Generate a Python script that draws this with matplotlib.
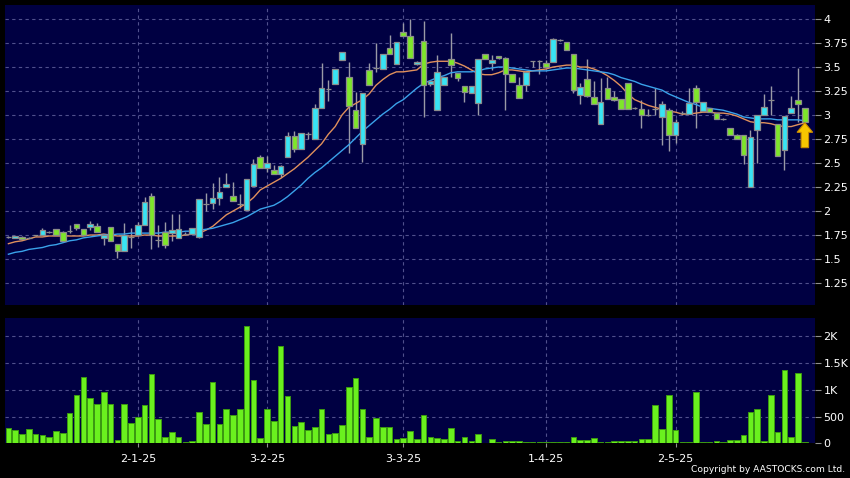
import numpy as np
import pandas as pd
import matplotlib
matplotlib.use('Agg')
import matplotlib.pyplot as plt
from matplotlib.patches import FancyArrow

# HK trading days, Dec 2024 - May 2025
holidays = ['2024-12-25', '2024-12-26', '2025-01-01', '2025-01-29', '2025-01-30',
            '2025-01-31', '2025-04-04', '2025-04-18', '2025-04-21', '2025-05-01',
            '2025-05-05']
dates = pd.bdate_range('2024-12-03', '2025-05-30')
dates = dates[~dates.isin(pd.to_datetime(holidays))]

opens = [1.73, 1.72, 1.73, 1.72, 1.75, 1.75, 1.78, 1.81, 1.785, 1.795,
         1.87, 1.81, 1.83, 1.84, 1.715, 1.83, 1.66, 1.585, 1.725, 1.75,
         1.855, 2.16, 1.70, 1.78, 1.77, 1.715, 1.765, 1.76, 1.73, 2.07,
         2.08, 2.14, 2.25, 2.16, 2.07, 2.01, 2.26, 2.56, 2.445, 2.43,
         2.39, 2.56, 2.785, 2.65, 2.80, 2.75, 3.07, 3.27, 3.32, 3.57,
         3.40, 3.05, 2.70, 3.47, 3.49, 3.48, 3.70, 3.53, 3.86, 3.82,
         3.53, 3.77, 3.32, 3.05, 3.31, 3.58, 3.44, 3.30, 3.23, 3.13,
         3.64, 3.54, 3.615, 3.59, 3.43, 3.31, 3.31, 3.56, 3.56, 3.54,
         3.55, 3.78, 3.76, 3.64, 3.21, 3.38, 3.19, 2.91, 3.285, 3.19,
         3.17, 3.33, 3.07, 3.06, 3.00, 3.06, 2.98, 3.05, 2.79, 3.02,
         3.01, 3.28, 3.045, 3.07, 3.02, 2.96, 2.87, 2.79, 2.79, 2.25,
         2.84, 3.00, 3.155, 2.91, 2.64, 3.02, 3.16, 3.07]
highs = [1.745, 1.745, 1.735, 1.725, 1.755, 1.82, 1.79, 1.81, 1.79, 1.85,
         1.87, 1.81, 1.90, 1.88, 1.75, 1.83, 1.66, 1.88, 1.82, 1.89,
         2.15, 2.19, 1.85, 1.89, 1.97, 1.97, 1.78, 1.82, 2.13, 2.19,
         2.29, 2.35, 2.40, 2.30, 2.18, 2.33, 2.54, 2.58, 2.57, 2.48,
         2.48, 2.82, 2.83, 2.81, 2.82, 3.12, 3.54, 3.36, 3.48, 3.66,
         3.55, 3.24, 3.23, 3.54, 3.75, 3.64, 3.83, 3.76, 3.96, 4.00,
         3.56, 3.98, 3.36, 3.63, 3.40, 3.85, 3.44, 3.30, 3.30, 3.58,
         3.64, 3.63, 3.62, 3.60, 3.43, 3.40, 3.445, 3.56, 3.57, 3.57,
         3.80, 3.79, 3.76, 3.64, 3.33, 3.58, 3.35, 3.39, 3.40, 3.25,
         3.17, 3.33, 3.08, 3.16, 3.06, 3.28, 3.15, 3.07, 2.96, 3.04,
         3.28, 3.31, 3.14, 3.07, 3.02, 2.97, 2.87, 2.80, 2.79, 2.84,
         3.00, 3.22, 3.30, 2.91, 2.99, 3.20, 3.49, 3.07]
lows = [1.72, 1.715, 1.705, 1.715, 1.745, 1.75, 1.775, 1.75, 1.69, 1.77,
        1.80, 1.75, 1.80, 1.78, 1.65, 1.69, 1.51, 1.585, 1.61, 1.75,
        1.855, 1.60, 1.63, 1.62, 1.69, 1.715, 1.75, 1.76, 1.72, 2.00,
        2.02, 2.06, 2.25, 2.10, 2.03, 2.01, 2.26, 2.445, 2.41, 2.39,
        2.35, 2.56, 2.61, 2.65, 2.75, 2.75, 3.07, 3.15, 3.32, 3.57,
        2.60, 2.86, 2.51, 3.31, 3.45, 3.48, 3.64, 3.53, 3.82, 3.59,
        3.52, 2.98, 3.30, 3.05, 3.31, 3.40, 3.35, 3.14, 3.23, 3.00,
        3.58, 3.47, 3.58, 3.05, 3.34, 3.18, 3.25, 3.50, 3.43, 3.50,
        3.55, 3.77, 3.68, 3.23, 3.12, 3.19, 3.11, 2.91, 3.17, 3.15,
        3.06, 3.06, 3.06, 2.86, 2.99, 3.00, 2.69, 2.63, 2.71, 3.00,
        3.01, 2.86, 3.04, 3.03, 2.96, 2.95, 2.79, 2.75, 2.49, 2.25,
        2.50, 3.00, 3.00, 2.57, 2.43, 3.02, 2.93, 2.93]
closes = [1.73, 1.735, 1.71, 1.72, 1.75, 1.80, 1.78, 1.755, 1.69, 1.795,
          1.82, 1.755, 1.865, 1.785, 1.75, 1.69, 1.585, 1.75, 1.725, 1.855,
          2.09, 1.75, 1.70, 1.65, 1.80, 1.81, 1.765, 1.82, 2.13, 2.07,
          2.14, 2.195, 2.28, 2.10, 2.07, 2.33, 2.49, 2.445, 2.50, 2.39,
          2.47, 2.785, 2.65, 2.81, 2.80, 3.07, 3.28, 3.27, 3.48, 3.66,
          3.09, 2.86, 3.23, 3.31, 3.49, 3.64, 3.64, 3.76, 3.82, 3.59,
          3.555, 3.31, 3.35, 3.45, 3.40, 3.52, 3.39, 3.24, 3.30, 3.58,
          3.58, 3.57, 3.59, 3.43, 3.34, 3.18, 3.445, 3.56, 3.56, 3.50,
          3.79, 3.78, 3.68, 3.26, 3.295, 3.195, 3.11, 3.14, 3.17, 3.16,
          3.06, 3.06, 3.07, 3.00, 3.00, 3.06, 3.12, 2.79, 2.93, 3.02,
          3.13, 3.14, 3.14, 3.035, 2.96, 2.96, 2.79, 2.75, 2.58, 2.77,
          3.00, 3.08, 3.155, 2.57, 2.99, 3.07, 3.12, 2.93]
volume = [278, 247, 173, 265, 167, 148, 111, 228, 197, 561,
          895, 1240, 851, 728, 950, 740, 62, 740, 370, 494,
          710, 1296, 457, 117, 210, 117, 19, 37, 592, 364,
          1154, 364, 648, 537, 635, 2184, 1191, 93, 642, 426,
          1826, 882, 321, 395, 241, 296, 642, 179, 185, 333,
          1061, 1222, 642, 123, 481, 296, 302, 74, 93, 222,
          74, 537, 123, 93, 74, 278, 43, 117, 43, 167,
          12, 74, 19, 49, 37, 43, 25, 25, 25, 25,
          25, 25, 25, 111, 56, 62, 99, 25, 25, 37,
          37, 43, 49, 80, 80, 716, 265, 895, 247, 25,
          25, 950, 31, 31, 37, 31, 56, 62, 148, 586,
          635, 37, 895, 216, 1370, 117, 1320, 31]
ma10 = [1.66, 1.68, 1.69, 1.71, 1.73, 1.73, 1.74, 1.74, 1.74, 1.74,
        1.74, 1.74, 1.75, 1.75, 1.76, 1.75, 1.74, 1.74, 1.74, 1.74,
        1.75, 1.75, 1.74, 1.74, 1.74, 1.74, 1.75, 1.76, 1.77, 1.80,
        1.84, 1.90, 1.96, 2.00, 2.04, 2.08, 2.14, 2.22, 2.26, 2.30,
        2.34, 2.39, 2.44, 2.50, 2.56, 2.63, 2.70, 2.80, 2.88, 3.00,
        3.08, 3.12, 3.16, 3.22, 3.31, 3.37, 3.42, 3.45, 3.45, 3.46,
        3.47, 3.53, 3.55, 3.56, 3.56, 3.56, 3.54, 3.51, 3.47, 3.43,
        3.42, 3.42, 3.44, 3.47, 3.47, 3.46, 3.45, 3.46, 3.47, 3.48,
        3.50, 3.51, 3.52, 3.52, 3.50, 3.50, 3.48, 3.45, 3.41, 3.36,
        3.30, 3.22, 3.16, 3.13, 3.10, 3.08, 3.06, 3.04, 3.03, 3.01,
        3.01, 3.02, 3.03, 3.03, 3.02, 3.02, 3.01, 2.99, 2.96, 2.93,
        2.92, 2.92, 2.91, 2.89, 2.88, 2.88, 2.90, 2.92]
ma20 = [1.55, 1.57, 1.58, 1.60, 1.61, 1.62, 1.64, 1.65, 1.67, 1.69,
        1.70, 1.72, 1.73, 1.74, 1.75, 1.75, 1.76, 1.76, 1.77, 1.77,
        1.77, 1.77, 1.77, 1.78, 1.78, 1.78, 1.79, 1.79, 1.80, 1.81,
        1.82, 1.84, 1.86, 1.88, 1.91, 1.94, 1.98, 2.02, 2.04, 2.06,
        2.10, 2.15, 2.21, 2.27, 2.34, 2.40, 2.45, 2.51, 2.57, 2.63,
        2.69, 2.76, 2.83, 2.89, 2.95, 3.01, 3.06, 3.12, 3.16, 3.22,
        3.28, 3.33, 3.36, 3.39, 3.41, 3.44, 3.45, 3.45, 3.45, 3.46,
        3.48, 3.49, 3.50, 3.50, 3.49, 3.48, 3.47, 3.46, 3.46, 3.46,
        3.47, 3.48, 3.49, 3.49, 3.48, 3.47, 3.46, 3.45, 3.44, 3.42,
        3.39, 3.37, 3.35, 3.32, 3.30, 3.28, 3.26, 3.22, 3.19, 3.16,
        3.13, 3.11, 3.08, 3.07, 3.06, 3.05, 3.03, 3.01, 2.98, 2.97,
        2.96, 2.96, 2.96, 2.95, 2.95, 2.95, 2.95, 2.94]

tick_dates = pd.to_datetime(['2025-01-02', '2025-02-03', '2025-03-03', '2025-04-01', '2025-05-02'])
price_ticks = [1.25, 1.5, 1.75, 2, 2.25, 2.5, 2.75, 3, 3.25, 3.5, 3.75, 4]
vol_ticks = [0, 500, 1000, 1500, 2000]
vol_labels = ['0', '500', '1K', '1.5K', '2K']

navy = '#000042'
grid_c = '#50508c'
cyan = '#38e4f4'
lime = '#7ee62a'

x = np.arange(len(dates))
o = np.array(opens)
c = np.array(closes)
body_col = np.where(c > o, cyan, np.where(c < o, lime, '#a0a0a0'))
tick_pos = [list(dates).index(d) for d in tick_dates]
tick_lab = [f'{d.day}-{d.month}-{d.strftime("%y")}' for d in tick_dates]

fig = plt.figure(figsize=(8.5, 4.78), dpi=100, facecolor='black')
ax1 = fig.add_axes([0.0059, 0.3619, 0.953, 0.6276])
ax2 = fig.add_axes([0.0059, 0.0726, 0.953, 0.2615])

for ax in (ax1, ax2):
    ax.set_facecolor(navy)
    for s in ax.spines.values():
        s.set_visible(False)
    ax.set_xlim(-0.5, 118.5)
    ax.set_xticks(tick_pos)
    ax.yaxis.tick_right()
    ax.tick_params(axis='y', colors='#909090', labelcolor='white', length=4,
                   width=0.8, pad=2, labelsize=8)
    ax.grid(True, color=grid_c, linestyle=(0, (3, 3)), linewidth=0.8)
    ax.set_axisbelow(True)

# price
ax1.vlines(x, lows, highs, color='#9a9aa6', linewidth=1, zorder=2)
ax1.plot(x, ma10, color='#e0905c', linewidth=1, zorder=2.5)
ax1.plot(x, ma20, color='#3aa2ea', linewidth=1, zorder=2.5)
ax1.bar(x, np.abs(c - o), 0.82, bottom=np.minimum(o, c), color=body_col,
        edgecolor='#8c8c8c', linewidth=0.9, zorder=3)
ax1.add_patch(FancyArrow(x[-1], c[-1] - 0.27, 0, 0.26, width=1.1, head_width=2.3,
                         head_length=0.1, length_includes_head=True,
                         facecolor='#f7c600', edgecolor='#c88a00', linewidth=0.8, zorder=5))
ax1.set_ylim(1.021, 4.146)
ax1.set_yticks(price_ticks)
ax1.set_yticklabels([f'{t:g}' for t in price_ticks])
ax1.tick_params(axis='x', length=0, labelbottom=False)

# volume
ax2.bar(x, volume, 0.82, color='#6af01e', edgecolor='#3c9a12', linewidth=0.7, zorder=3)
ax2.set_ylim(0, 2336)
ax2.set_yticks(vol_ticks)
ax2.set_yticklabels(vol_labels)
ax2.set_xticklabels(tick_lab)
ax2.tick_params(axis='x', colors='#909090', labelcolor='white', length=3,
                width=0.8, pad=5, labelsize=8)

fig.text(0.994, 0.008, 'Copyright by AASTOCKS.com Ltd.', color='white',
         fontsize=6.6, ha='right', va='bottom')

fig.savefig('out.png', dpi=100, facecolor='black')
